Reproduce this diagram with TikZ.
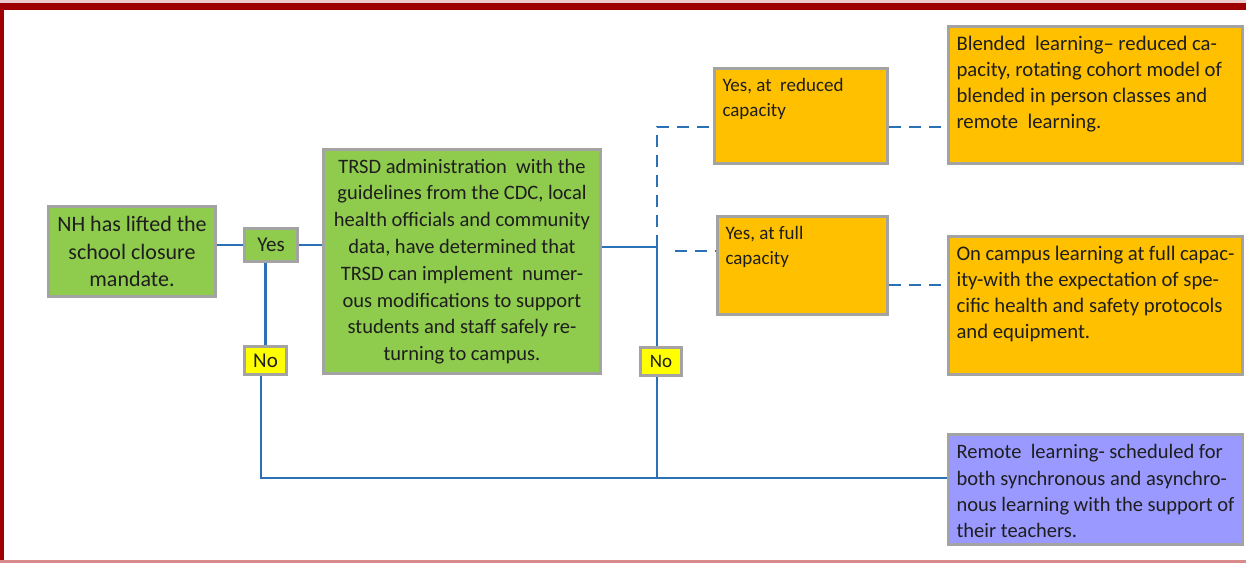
\documentclass[tikz,border=0pt]{standalone}
\usepackage{fontspec}
\setmainfont{Carlito}
\usetikzlibrary{positioning}
\definecolor{framered}{HTML}{9E0000}
\definecolor{framepink}{HTML}{D98A8A}
\definecolor{boxgray}{HTML}{A3A3A3}
\definecolor{boxgreen}{HTML}{8FCB4C}
\definecolor{boxorange}{HTML}{FFC000}
\definecolor{boxyellow}{HTML}{FFFF00}
\definecolor{boxpurple}{HTML}{9999FF}
\definecolor{linkblue}{HTML}{2A72B5}
\definecolor{textdark}{HTML}{1E1E1E}
\tikzset{
  box/.style={draw=boxgray, line width=3pt, text=textdark, inner sep=0pt},
  greenbox/.style={box, fill=boxgreen, align=center},
  yellowbox/.style={box, fill=boxyellow},
  orangebox/.style={box, fill=boxorange, inner xsep=8pt, inner ysep=10pt},
  purplebox/.style={box, fill=boxpurple, inner xsep=8pt, inner ysep=10pt},
  link/.style={draw=linkblue, line width=2.8pt},
  dashlink/.style={link, dash pattern=on 12pt off 8pt}
}
\begin{document}
\begin{tikzpicture}[x=1pt,y=-1pt]
  \useasboundingbox (0,0) rectangle (1246,563);
  \fill[framered!20] (0,0) rectangle (1246,3);
  \fill[framered] (0,3) rectangle (1246,10);
  \fill[framered] (0,3) rectangle (4,563);
  \fill[framepink] (0,560) rectangle (1246,563);

  \node[greenbox, minimum width=167pt, minimum height=90pt,
        font=\fontsize{22}{27.5}\selectfont] (nh) at (132,251.5)
        {NH has lifted the\\school closure\\mandate.};
  \node[greenbox, minimum width=53pt, minimum height=33pt,
        font=\fontsize{21}{22}\selectfont] (yes1) at (271,245) {Yes};
  \node[yellowbox, minimum width=42pt, minimum height=28pt,
        font=\fontsize{21}{22}\selectfont] (no1) at (265.5,360.5) {No};
  \node[greenbox, minimum width=277pt, minimum height=224pt,
        font=\fontsize{20.5}{26.8}\selectfont] (trsd) at (462,261.5)
        {TRSD administration\ \ with the\\guidelines from the CDC, local\\health officials and community\\data, have determined that\\TRSD can implement\ \ numer-\\ous modifications to support\\students and staff safely re-\\turning to campus.};
  \node[yellowbox, minimum width=41pt, minimum height=28pt,
        font=\fontsize{19}{22}\selectfont] (no2) at (661,361.5) {No};

  \node[orangebox, font=\fontsize{19}{25}\selectfont] (yesred) at (801,116)
        {\parbox[c][75pt][t]{157pt}{\raggedright Yes, at\ \ reduced\\capacity}};
  \node[orangebox, font=\fontsize{19}{25}\selectfont] (yesfull) at (802.5,265.5)
        {\parbox[c][78pt][t]{154pt}{\raggedright Yes, at full\\capacity}};
  \node[orangebox, font=\fontsize{20.7}{26}\selectfont] (blend) at (1095.5,95)
        {\parbox[c][117pt][t]{278pt}{\raggedright Blended\ \ learning– reduced ca-\\pacity, rotating cohort model of\\blended in person classes and\\remote\ \ learning.}};
  \node[orangebox, font=\fontsize{20.7}{26}\selectfont] (campus) at (1095.5,305.5)
        {\parbox[c][118pt][t]{278pt}{\raggedright On campus learning at full capac-\\ity-with the expectation of spe-\\cific health and safety protocols\\and equipment.}};
  \node[purplebox, font=\fontsize{20.5}{26.3}\selectfont] (remote) at (1095.5,489.5)
        {\parbox[c][90pt][t]{278pt}{\raggedright Remote\ \ learning- scheduled for\\both synchronous and asynchro-\\nous learning with the support of\\their teachers.}};

  \coordinate (split) at (657,247);
  \coordinate (topbend) at (657,127);
  \coordinate (fullin) at (675,251);
  \coordinate (fullout) at (889,285);
  \coordinate (lowleft) at (261,478);

  \draw[link] (yes1.west) -- (yes1.west -| nh.east);
  \draw[link] (yes1.east) -- (yes1.east -| trsd.west);
  \draw[link] (no1.north |- yes1.south) -- (no1.north);
  \draw[link] (no1.south -| lowleft) -- (lowleft) -- (lowleft -| remote.west);
  \draw[link] (trsd.east |- split) -- (split) -- (split |- no2.north);
  \draw[link] (split |- no2.south) -- (split |- lowleft);
  \draw[dashlink] (split) -- (topbend) -- (topbend -| yesred.west);
  \draw[dashlink] (yesred.east |- topbend) -- (topbend -| blend.west);
  \draw[dashlink] (fullin) -- (fullin -| yesfull.west);
  \draw[dashlink] (fullout) -- (fullout -| campus.west);
\end{tikzpicture}
\end{document}
